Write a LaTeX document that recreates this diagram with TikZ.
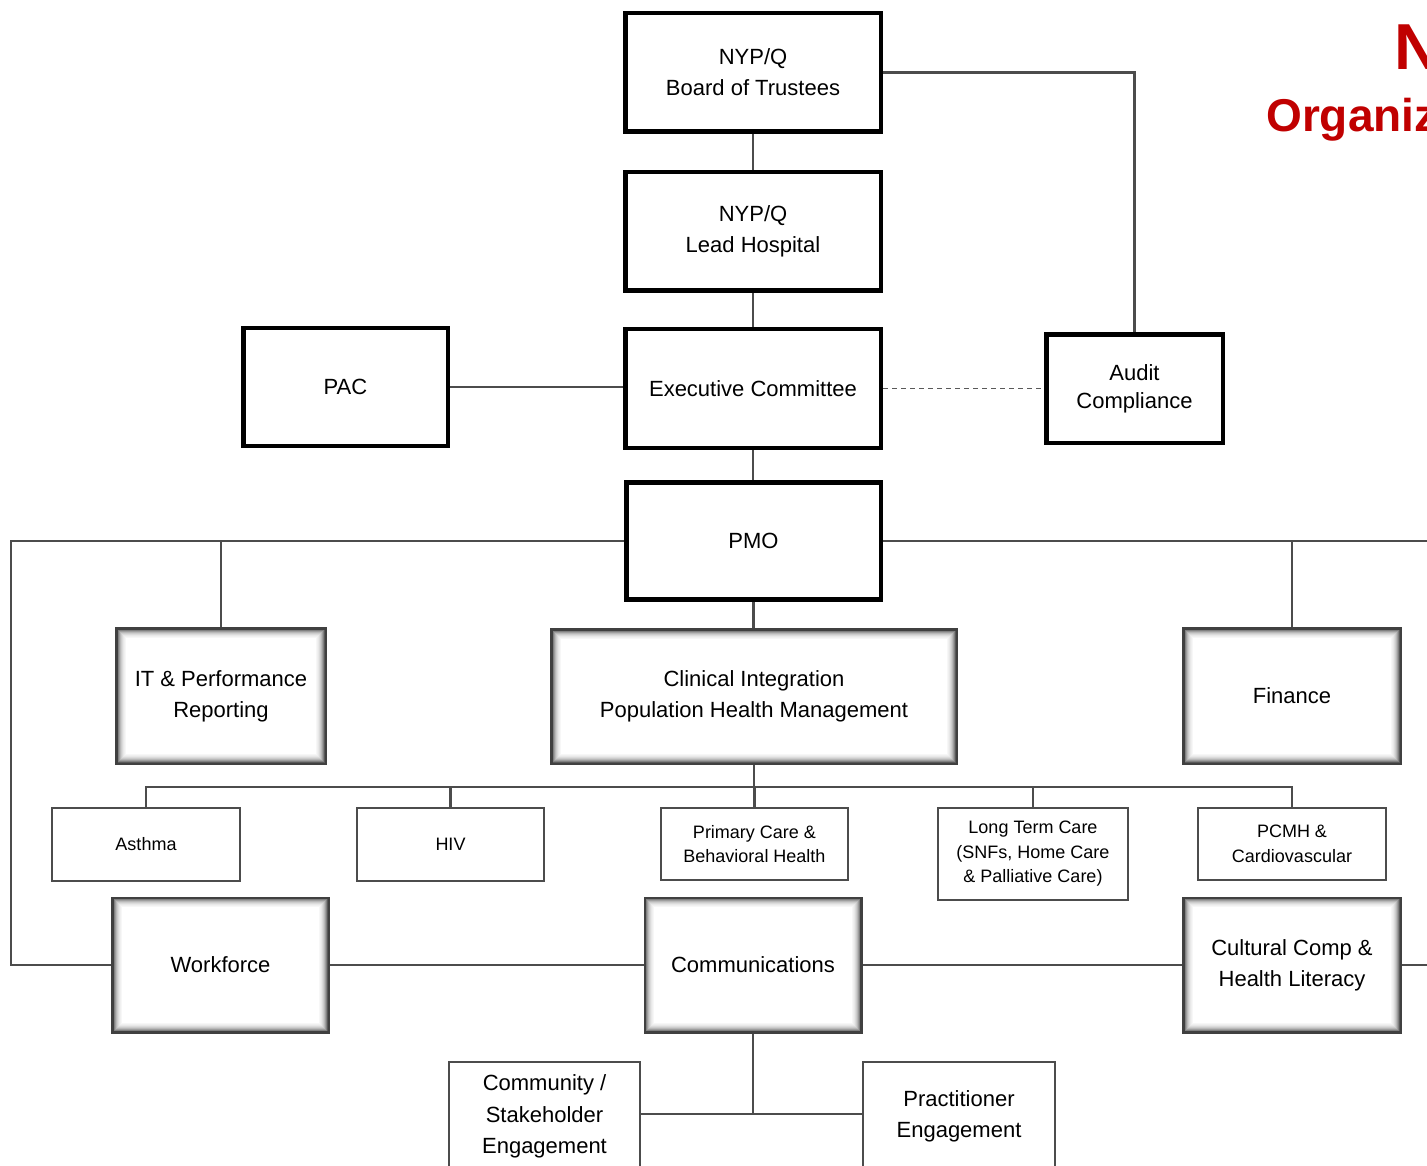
\documentclass[tikz,border=0pt]{standalone}
\usepackage{fontspec}
\setmainfont{Liberation Sans}
\definecolor{titlered}{RGB}{192,0,0}
\begin{document}
\begin{tikzpicture}[x=1pt,y=-1pt,
  mainbox/.style={draw=black, line width=4.5pt, fill=white, inner sep=0pt, align=center,
    font=\fontsize{22}{31}\selectfont},
  shadebox/.style={draw=black!75, line width=2.5pt, fill=white, inner sep=0pt, align=center,
    font=\fontsize{22}{31}\selectfont,
    path picture={\foreach \i/\c in {1/65,2/50,3/38,4/28,5/20,6/14,7/9,8/6,9/3}{
      \draw[black!\c, line width=1.2pt]
        ([shift={(\i,\i)}]path picture bounding box.north west) rectangle
        ([shift={(-\i,-\i)}]path picture bounding box.south east);}}},
  subbox/.style={draw=black!70, line width=1.6pt, fill=white, inner sep=0pt, align=center,
    font=\fontsize{18}{24.5}\selectfont},
  lowbox/.style={draw=black!70, line width=1.6pt, fill=white, inner sep=0pt, align=center,
    font=\fontsize{22}{31.5}\selectfont},
  conn/.style={draw=black!70, line width=2.2pt},
  dashconn/.style={draw=black!65, line width=1.6pt, dash pattern=on 5pt off 4pt},
  title/.style={text=titlered, font=\bfseries\fontsize{#1}{#1}\selectfont, inner sep=0pt}
]
\useasboundingbox (0,0) rectangle (1427,1166);

% title (cut off by the page edge, as in the reference)
\node[title=65, anchor=base west] (t1) at (1394,70) {N};
\node[title=46, anchor=base west] (t2) at (1266,132) {Organiz};

% helper coordinates for free ends
\coordinate (L) at (11,541);
\coordinate (R1) at (1427,541);
\coordinate (R2) at (1427,965);
\coordinate (bus) at (754,787);
\coordinate (jn) at (753,1114);

% top chain
\node[mainbox, minimum width=255.5, minimum height=118.5] (board) at (753,72.5) {NYP/Q\\Board of Trustees};
\node[mainbox, minimum width=255.5, minimum height=118.5] (lead) at (753,231.5) {NYP/Q\\Lead Hospital};
\node[mainbox, minimum width=255.5, minimum height=118.5] (exec) at (753,388.5) {Executive Committee};
\node[mainbox, minimum width=204.5, minimum height=117.5] (pac) at (345.5,387) {PAC};
\node[mainbox, minimum width=176.5, minimum height=108.5, font=\fontsize{22}{28}\selectfont] (audit) at (1134.5,388.5) {Audit\\Compliance};
\node[mainbox, minimum width=254.5, minimum height=117] (pmo) at (753.5,541) {PMO};

% shaded boxes
\node[shadebox, minimum width=209.5, minimum height=135.5] (it) at (221,696) {IT \& Performance\\Reporting};
\node[shadebox, minimum width=405.5, minimum height=134.5] (clin) at (754,696.5) {Clinical Integration\\Population Health Management};
\node[shadebox, minimum width=217.5, minimum height=135.5] (fin) at (1292,696) {Finance};
\node[shadebox, minimum width=216.5, minimum height=134.5] (work) at (220.5,965) {Workforce};
\node[shadebox, minimum width=216.5, minimum height=134.5] (comm) at (753,965) {Communications};
\node[shadebox, minimum width=217.5, minimum height=134.5] (cult) at (1292,965) {Cultural Comp \&\\Health Literacy};

% sub boxes
\node[subbox, minimum width=188.5, minimum height=73.5] (asthma) at (146,844.5) {Asthma};
\node[subbox, minimum width=187.5, minimum height=73.5] (hiv) at (450.5,844.5) {HIV};
\node[subbox, minimum width=187.5, minimum height=72.5] (prim) at (754.5,844) {Primary Care \&\\Behavioral Health};
\node[subbox, minimum width=190.5, minimum height=92.5] (ltc) at (1033,854) {Long Term Care\\(SNFs, Home Care\\\& Palliative Care)};
\node[subbox, minimum width=188.5, minimum height=72.5] (pcmh) at (1292,844) {PCMH \&\\Cardiovascular};
\node[lowbox, minimum width=191.5, minimum height=109.5] (cs) at (544.5,1116.5) {Community /\\Stakeholder\\Engagement};
\node[lowbox, minimum width=192.5, minimum height=109.5] (pe) at (959,1116.5) {Practitioner\\Engagement};

% connectors
\path[conn] (board.south) -- (lead.north);
\path[conn] (lead.south) -- (exec.north);
\path[conn] (exec.south) -- (exec.south |- pmo.north);
\path[conn] (board.east) -| (audit.north);
\path[dashconn] (exec.east) -- (audit.west);
\path[conn] (pac.east) -- (pac.east -| exec.west);
\path[conn] (pmo.west) -- (L) |- (work.west);
\path[conn] (it.north) -- (it.north |- L);
\path[conn] (pmo.east) -- (R1);
\path[conn] (fin.north) -- (fin.north |- R1);
\path[conn] (pmo.south) -- (pmo.south |- clin.north);
\path[conn] (clin.south) -- (bus);
\path[conn] (asthma.north) -- (asthma.north |- bus) -- (pcmh.north |- bus) -- (pcmh.north);
\path[conn] (hiv.north) -- (hiv.north |- bus);
\path[conn] (prim.north) -- (prim.north |- bus);
\path[conn] (ltc.north) -- (ltc.north |- bus);
\path[conn] (work.east) -- (comm.west);
\path[conn] (comm.east) -- (cult.west);
\path[conn] (cult.east) -- (R2);
\path[conn] (comm.south) -- (jn);
\path[conn] (cs.east |- jn) -- (pe.west |- jn);
\end{tikzpicture}
\end{document}
